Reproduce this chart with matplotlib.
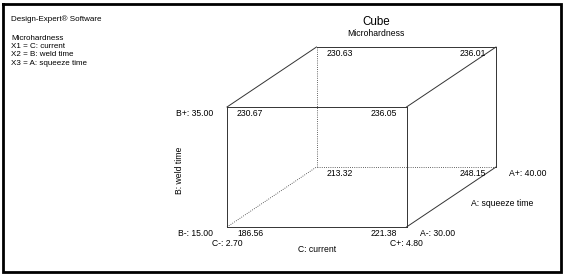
import matplotlib
matplotlib.use("Agg")
import matplotlib.pyplot as plt

plt.rcParams['font.family'] = ['Liberation Sans', 'DejaVu Sans']

# ---- data ----
title = "Cube"
response = "Microhardness"
header_lines = ["Design-Expert® Software", "Microhardness",
                "X1 = C: current", "X2 = B: weld time", "X3 = A: squeeze time"]
c_name, b_name, a_name = "C: current", "B: weld time", "A: squeeze time"
c_levels = ["2.70", "4.80"]
b_levels = ["15.00", "35.00"]
a_levels = ["30.00", "40.00"]
# corner codes (C, B, A) in {0,1}
corner_c = [0, 1, 0, 1, 0, 1, 0, 1]
corner_b = [0, 0, 1, 1, 0, 0, 1, 1]
corner_a = [0, 0, 0, 0, 1, 1, 1, 1]
corner_vals = [186.56, 221.38, 230.67, 236.05, 213.32, 248.15, 230.63, 236.01]

# ---- layout (pixel space) ----
W, H = 566, 276
fig = plt.figure(figsize=(W / 100, H / 100), dpi=100)
ax = fig.add_axes([0, 0, 1, 1])
ax.set_xlim(0, W)
ax.set_ylim(H, 0)
ax.axis('off')

x0, y0 = 227, 227      # front bottom-left corner
wc, hb = 179.5, 120    # cube width (C) and height (B)
dx, dy = 89.5, -60     # depth offset (A)

def proj(c, b, a):
    return x0 + c * wc + a * dx, y0 - b * hb + a * dy

# edges
edges = []
for i in range(8):
    for j in range(i + 1, 8):
        d = abs(corner_c[i] - corner_c[j]) + abs(corner_b[i] - corner_b[j]) + abs(corner_a[i] - corner_a[j])
        if d == 1:
            edges.append((i, j))
hidden = 4  # corner (C-, B-, A+) is hidden
for i, j in edges:
    p = proj(corner_c[i], corner_b[i], corner_a[i])
    q = proj(corner_c[j], corner_b[j], corner_a[j])
    if hidden in (i, j):
        ax.plot([p[0], q[0]], [p[1], q[1]], color='#333333', lw=0.6, ls=(0, (1.0, 1.6)))
    else:
        ax.plot([p[0], q[0]], [p[1], q[1]], color='#333333', lw=0.7)

fs = 6.2
for c, b, a, v in zip(corner_c, corner_b, corner_a, corner_vals):
    px, py = proj(c, b, a)
    if c == 0:
        ax.text(px + 10, py + 6, f"{v:.2f}", ha='left', va='center', fontsize=fs)
    else:
        ax.text(px - 10, py + 6, f"{v:.2f}", ha='right', va='center', fontsize=fs)

# factor labels
px, py = proj(0, 1, 0)
ax.text(px - 14, py + 6, f"B+: {b_levels[1]}", ha='right', va='center', fontsize=fs)
px, py = proj(0, 0, 0)
ax.text(px - 14, py + 6, f"B-: {b_levels[0]}", ha='right', va='center', fontsize=fs)
ax.text(px, py + 16, f"C-: {c_levels[0]}", ha='center', va='center', fontsize=fs)
px, py = proj(1, 0, 0)
ax.text(px, py + 16, f"C+: {c_levels[1]}", ha='center', va='center', fontsize=fs)
ax.text(px + 13, py + 6, f"A-: {a_levels[0]}", ha='left', va='center', fontsize=fs)
px, py = proj(1, 0, 1)
ax.text(px + 13, py + 6, f"A+: {a_levels[1]}", ha='left', va='center', fontsize=fs)
ax.text(502, 203, a_name, ha='center', va='center', fontsize=fs)
ax.text(x0 + wc / 2, y0 + 22, c_name, ha='center', va='center', fontsize=fs)
ax.text(179, y0 - hb / 2 + 3, b_name, ha='center', va='center', fontsize=fs, rotation=90)

# title
ax.text(376, 22, title, ha='center', va='center', fontsize=8.4)
ax.text(376, 34, response, ha='center', va='center', fontsize=fs)

# header
header_y = [19, 38, 46.5, 55, 63.5]
for yy, line in zip(header_y, header_lines):
    ax.text(11, yy, line, ha='left', va='center', fontsize=5.8)

# border
ax.plot([3, 561, 561, 3, 3], [4, 4, 272, 272, 4], color='black', lw=2.0, solid_joinstyle='miter')

fig.savefig("out.png", dpi=100)
